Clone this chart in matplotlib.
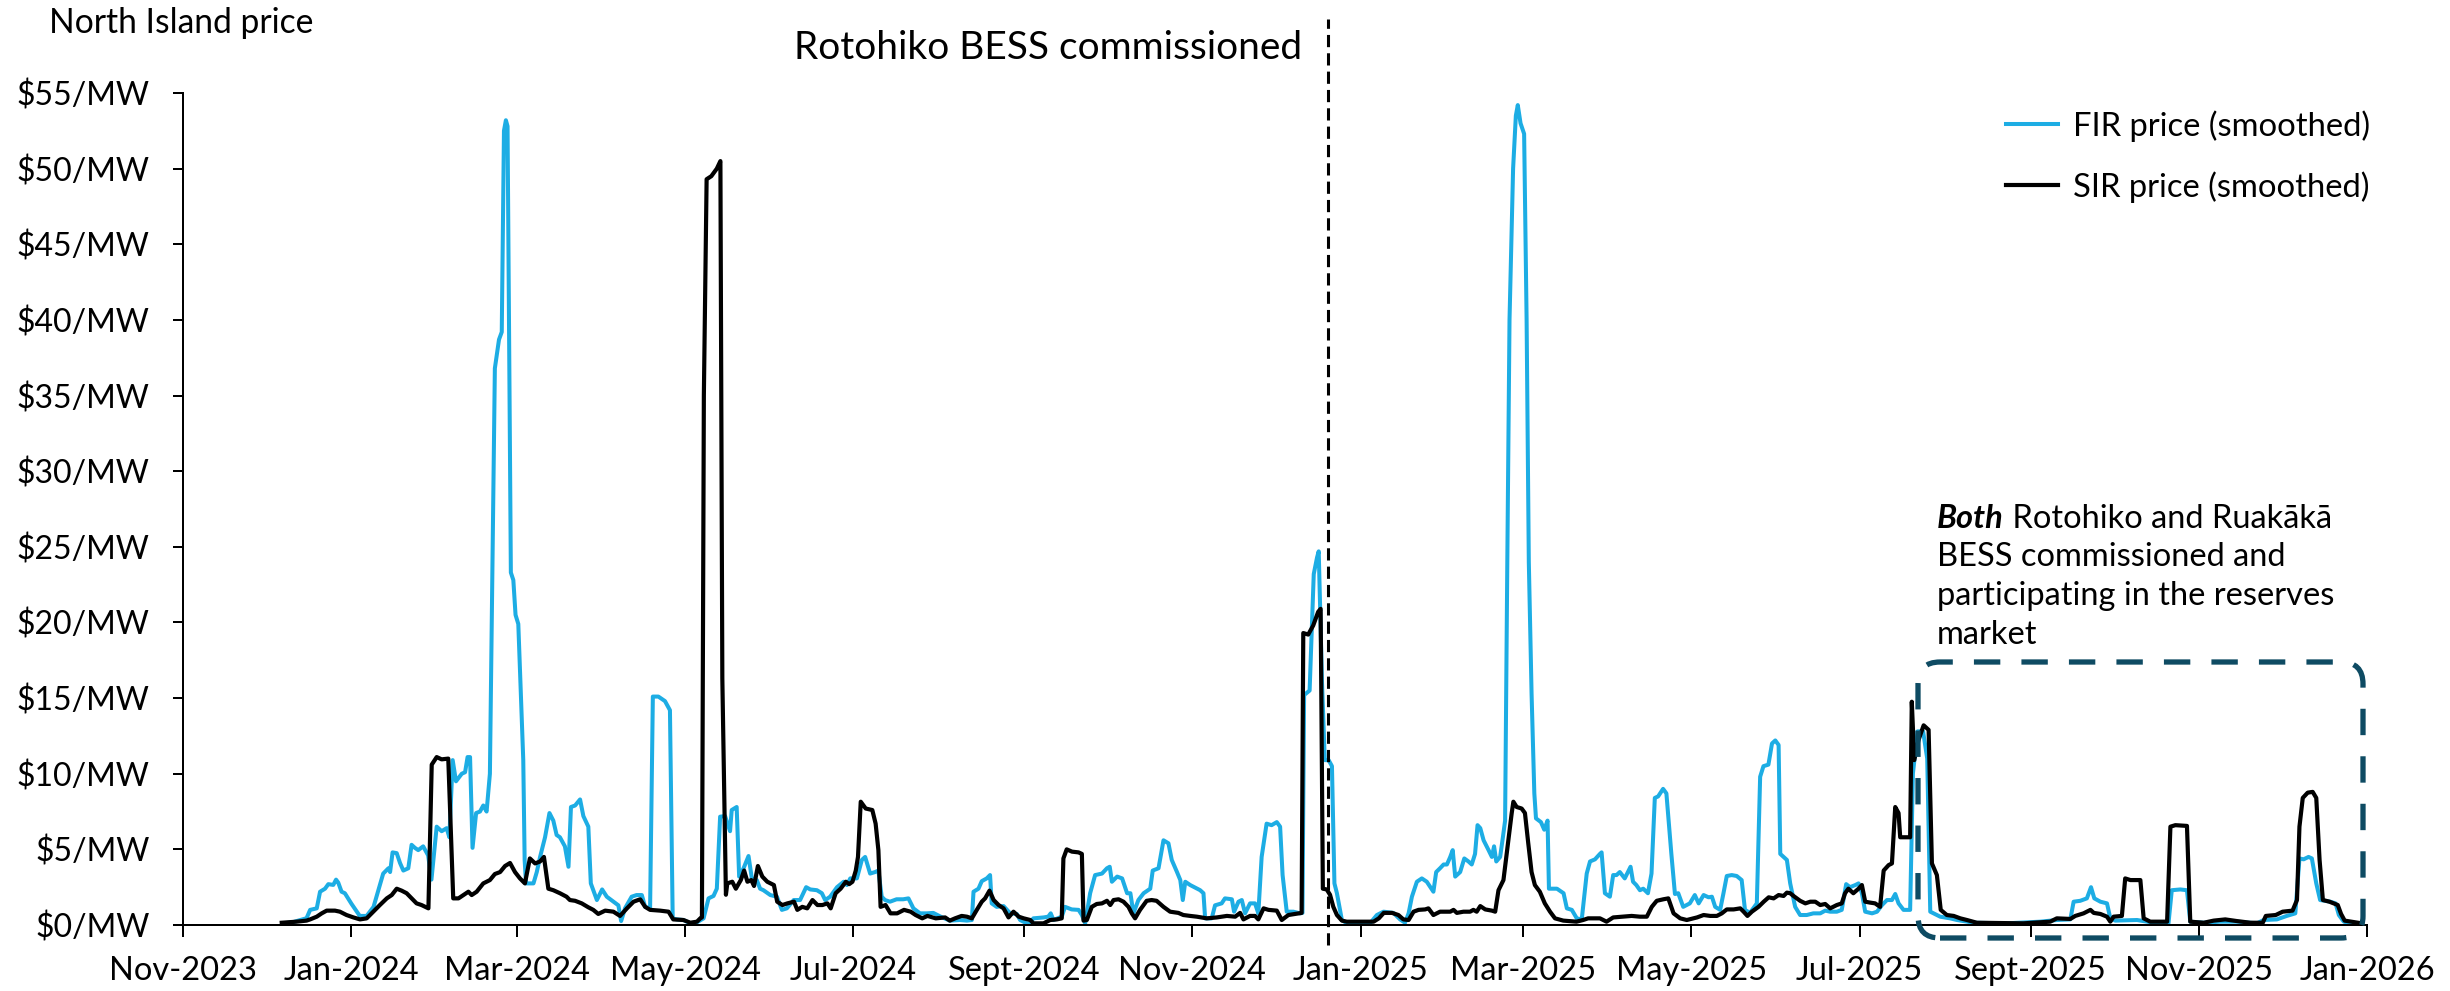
import matplotlib.pyplot as plt
import numpy as np
import pandas as pd
from matplotlib.patches import FancyBboxPatch
from matplotlib.transforms import IdentityTransform

plt.rcParams['font.family'] = ['Lato', 'DejaVu Sans']

W, H = 2450, 991
start = pd.Timestamp("2023-11-01")
end = pd.Timestamp("2026-01-01")
commissioned = pd.Timestamp("2024-12-20")

# smoothed North Island reserve prices, $/MW; days counted from 1 Nov 2023
fir_day = [36.3, 40, 44.7, 46, 48.4, 49.6, 51.4, 52.6, 54.4, 55.4, 56.2, 57.4, 58.6, 61, 64, 66.5, 69,
           72.5, 74.4, 75, 75.9, 77.4, 78.6, 79.8, 81.6, 82.8, 84, 85.2, 87, 88.8, 90, 91.9, 93.7, 95.5,
           96.5, 97.7, 98.9, 101, 102.2, 103.1, 104, 104.9, 106.2, 107.6, 108.8, 110, 111.2, 112, 113,
           114.5, 115.5, 116.3, 117, 117.6, 118.8, 119.7, 120.5, 121.5, 123.3, 123.8, 124.3, 127, 128.2,
           129.4, 131.2, 132.8, 134.2, 135.4, 136.6, 138.4, 139.7, 140.6, 142.1, 143.9, 145.1, 146.9,
           147.8, 150, 151.9, 153.6, 156, 157.8, 158.8, 160.2, 162.6, 164.4, 166.3, 167.5, 169.3, 170.3,
           172.3, 174.7, 176.5, 177.5, 179, 181.4, 183.9, 186.3, 188.7, 190.5, 192.3, 193.5, 194.7,
           196.5, 198.3, 198.9, 200.7, 201.6, 203.2, 205, 206.2, 208, 209.2, 210.4, 212.9, 215.3, 217.1,
           218.9, 221.4, 223.7, 225.9, 227.4, 229.8, 231.6, 232.8, 234.6, 237.1, 239.5, 240.7, 241.9,
           244.3, 246.1, 247.3, 249.1, 250.9, 252.1, 253.3, 254.5, 256.3, 258.7, 261.1, 263, 264.8,
           267.2, 269.6, 272, 274.7, 278, 281.7, 284.2, 286, 286.6, 288.4, 289.6, 291.4, 292.6, 293.2,
           295, 297.5, 299.9, 302.3, 303.5, 305.9, 307.1, 308.3, 312, 313.7, 314.6, 315.6, 318.6, 319.8,
           322.2, 324.7, 325.9, 327.1, 328.9, 330.7, 333.2, 335, 336, 336.8, 338.7, 340.5, 342.3, 343.5,
           344.6, 346.4, 348.3, 350.7, 351.6, 353.7, 355.5, 357.3, 358.5, 360.4, 361.6, 362.5, 363.4,
           365.2, 368.8, 370, 370.6, 373, 374.2, 376.6, 377.8, 380.3, 381.1, 382.7, 383.9, 385.1, 386.9,
           388.7, 389.9, 391.1, 392.9, 394.7, 396.6, 397.8, 398.7, 400.2, 402.6, 405, 405.9, 406.5,
           408.5, 410, 411.2, 411.8, 413, 414, 415.4, 416.6, 417.5, 418.4, 420.2, 422, 430.4, 432.9,
           435.3, 438.9, 441.3, 443.1, 444.4, 445.6, 447.4, 449.2, 451, 453.4, 454.4, 455.8, 457.1,
           458.3, 459.5, 460.4, 461.3, 463.1, 464.6, 466.1, 467.3, 468.5, 469.4, 470.4, 471.6, 473.4,
           474.6, 475.4, 476.2, 477.6, 478.6, 479.4, 480.2, 481, 482.3, 483.3, 484, 485, 486.3, 487.2,
           488, 489, 490, 490.6, 492.4, 493.6, 494.8, 495.3, 498.2, 500.6, 501.8, 503.6, 505.4, 507.2,
           509, 510.2, 512, 513.8, 514.4, 515.6, 517.4, 518.6, 519.8, 521, 522.8, 524.9, 525.8, 527,
           528.3, 529.5, 531.2, 532.5, 533.7, 534.9, 536.7, 537.9, 539.7, 541, 542.2, 544, 546.4, 548.2,
           549.6, 551.4, 553.2, 554.4, 555.6, 557.4, 558.6, 559.8, 561.6, 563.4, 565.2, 566.4, 568.2,
           570.7, 571.9, 573.1, 574.9, 576.2, 577.4, 578.6, 579.2, 581.6, 582.8, 584.6, 586.4, 588.8,
           591.2, 593.7, 595.5, 597.3, 599.7, 601.5, 603.1, 604.5, 606.4, 607.6, 608.8, 610, 612.5,
           614.3, 616.1, 617.9, 619.7, 620.9, 622.1, 623.9, 626.3, 627.3, 629, 631, 632.5, 633.6, 637.2,
           640.8, 643.3, 649.3, 661.4, 673.5, 679.5, 684.4, 685.6, 688, 690.4, 691.9, 693.1, 695.3,
           697.7, 698.9, 700.7, 708.6, 712.2, 715.8, 720, 721.2, 724.3, 726.7, 727.9, 732.8, 738.8,
           744.8, 752.1, 754.5, 759.3, 762.9, 766, 767.5, 769, 770.8, 772, 773.6, 775, 776.9, 778.7,
           780.6, 781.8, 783.6, 786, 789.2]
fir_price = [0.1, 0.2, 0.45, 1.0, 1.1, 2.2, 2.4, 2.7, 2.65, 3.0, 2.8, 2.2, 2.1, 1.4, 0.6, 0.6, 1.2,
             3.4, 3.75, 3.5, 4.8, 4.75, 4.1, 3.6, 3.75, 5.3, 5.1, 4.95, 5.2, 4.6, 3.0, 6.5, 6.2, 6.4,
             5.8, 10.9, 9.5, 10.0, 10.1, 11.1, 11.1, 5.1, 7.4, 7.5, 7.9, 7.5, 10.0, 22, 36.8,
             38.7, 39.2, 52.5, 53.2, 52.8, 23.3, 22.8, 20.5, 19.9, 10.9, 4.3, 2.75, 2.75, 3.5,
             4.5, 5.8, 7.4, 6.9, 5.95, 5.8, 5.2, 3.85, 7.8, 7.9, 8.3, 7.2, 6.5,
             2.75, 1.65, 2.35, 1.87, 1.54, 1.3, 0.26, 1.1, 1.87, 1.98, 1.98, 1.2, 1.1, 15.1,
             15.1, 14.8, 14.2, 0.44, 0.37, 0.33, 0.11, 0.18, 0.44, 1.76, 1.92, 2.4, 7.16,
             7.2, 6.2, 7.6, 7.8, 3.2, 3.75, 4.56, 3.08, 2.97, 2.4, 2.3, 1.98, 1.87, 1.0,
             1.1, 1.65, 1.65, 2.5, 2.35, 2.3, 2.1, 1.65, 1.87, 2.5, 2.86, 2.64, 3.08,
             3.08, 4.3, 4.5, 3.4, 3.5, 3.6, 1.87, 1.65, 1.54, 1.7, 1.7, 1.76, 1.1,
             0.77, 0.77, 0.8, 0.55, 0.29, 0.33, 0.29, 0.33, 2.2, 2.4, 2.9, 3.08, 3.3, 1.43,
             1.2, 1.25, 0.77, 0.73, 0.33, 0.11, 0.11, 0.44, 0.5, 0.55, 0.77, 0.33, 0.55, 1.2,
             1.03, 1.0, 0.66, 0.11, 2.1, 3.3, 3.4, 3.75, 3.85, 2.86, 3.2, 3.08, 2.1, 2.1,
             0.77, 1.65, 2.1, 2.4, 3.6, 3.75, 5.6, 5.4, 4.3, 3.5, 2.97, 1.65, 2.86,
             2.64, 2.3, 2.1, 0.44, 0.44, 1.3, 1.43, 1.76, 1.7, 0.88, 1.54, 1.65, 0.77, 1.43,
             1.43, 0.77, 4.5, 6.7, 6.6, 6.8, 6.5, 3.3, 0.88, 0.88, 0.77, 0.8, 15.2,
             15.5, 23.2, 24.3, 24.7, 16, 10.9, 10.9, 10.5, 2.75, 2.1, 0.33, 0.11, 0.11, 0.66,
             0.88, 0.8, 0.37, 0.15, 0.77, 1.87, 2.86, 3.08, 2.86, 2.2, 3.5, 3.75, 4.0,
             4.0, 4.5, 4.95, 3.2, 3.5, 4.4, 4.2, 4.0, 4.7, 6.6, 6.4, 5.6, 4.95,
             4.5, 5.2, 4.2, 4.5, 5.8, 6.9, 24, 40, 50, 53.5, 54.2, 53, 52.3, 40,
             24, 15.3, 8.7, 7.05, 6.8, 6.3, 6.9, 2.4, 2.4, 2.1, 1.1, 1.0, 0.44, 0.37,
             3.4, 4.2, 4.34, 4.7, 4.8, 2.1, 1.87, 3.3, 3.3, 3.5, 3.08, 3.85, 2.86, 2.64,
             2.3, 2.4, 2.1, 3.4, 8.4, 8.5, 9.0, 8.7, 4.7, 2.05, 2.1, 1.2, 1.43, 1.98,
             1.43, 1.98, 1.83, 1.87, 1.2, 1.0, 2.1, 3.24, 3.3, 3.24, 2.97, 1.0, 0.8,
             1.43, 9.8, 10.5, 10.6, 12.0, 12.2, 11.9, 4.7, 4.3, 2.75, 1.2, 0.66, 0.66,
             0.77, 0.77, 0.95, 0.88, 0.88, 1.0, 2.7, 2.5, 2.64, 2.75, 2.1, 0.88, 0.77,
             0.88, 1.32, 1.65, 1.65, 2.05, 1.43, 1.0, 1.0, 10.0, 12.8, 12.8, 11.0, 0.88, 0.55,
             0.44, 0.33, 0.15, 0.11, 0.22, 0.33, 0.37, 1.54, 1.6, 1.76, 2.5, 1.76, 1.54,
             1.43, 0.44, 0.29, 0.33, 0.22, 0.11, 0.11, 2.3, 2.35, 2.3, 0.22, 0.15, 0.22,
             0.22, 0.11, 0.33, 0.37, 0.6, 0.77, 4.4, 4.34, 4.5, 4.4, 2.75, 1.65, 1.6, 1.54,
             1.43, 0.66, 0.22, 0.11, 0.1]

sir_day = [35.7, 41.1, 44.7, 46, 48.4, 50.2, 52, 55, 56.8, 59.2, 61.7, 64.1, 66.5, 68.9, 71.3, 73.8,
           75.6, 77.4, 79.2, 81, 82.8, 84.6, 86.4, 88.9, 90.1, 91.9, 93.7, 96.1, 97.9, 99.8, 101.6,
           103.4, 104.6, 106.4, 108.8, 111.2, 113, 114.9, 116.7, 118.5, 120.3, 122.1, 123.9, 125.7,
           127.6, 129.4, 130.8, 132.4, 134.2, 136.6, 139, 140.2, 142.1, 144.5, 146.9, 148.7, 150.5,
           153, 156, 158.4, 160.9, 163.3, 165.7, 167.5, 169.3, 172.9, 176, 177.7, 181.4, 183.9, 186.3,
           187.5, 188.1, 188.8, 189.8, 191.5, 193.5, 194.8, 195.5, 196.8, 197.3, 199.1, 200.4, 202.2,
           203.4, 204.6, 206, 207, 208.4, 210, 211.8, 214.2, 215.4, 217.3, 219.1, 221.5, 222.7, 224.5,
           226.3, 228.2, 230, 231.8, 233.6, 234.8, 236.6, 238.4, 240.3, 241.5, 242.7, 243.9, 244.7,
           245.7, 247.5, 249.9, 251.1, 252.1, 252.9, 254.7, 256.5, 258.9, 261.4, 263.8, 265.6, 268,
           269.9, 272.9, 276.3, 278, 279.9, 282.3, 284.2, 286, 287.8, 289.6, 290.8, 292.4, 293.9,
           295.7, 297.5, 299.3, 301.1, 303, 304.8, 307.2, 308.3, 312, 314.4, 316.8, 318.6, 319.2,
           320.4, 322.3, 324.7, 325.9, 326.5, 327.7, 329.5, 331.3, 333.2, 335, 336.2, 337.4, 339.2,
           341, 342.8, 344, 345.2, 347, 349.4, 351.2, 353, 355.5, 357.9, 360.9, 362.7, 365.2, 367.6,
           371.2, 374.8, 378.5, 381.5, 383.3, 384.5, 386.9, 388.7, 389.9, 391.8, 393.6, 396.6, 398.4,
           400.8, 403.2, 405.6, 406.2, 408, 409.8, 411.6, 412.5, 413.3, 414.7, 415.9, 417.1, 418.4,
           420.2, 422, 431.7, 433.6, 435.4, 438.4, 440.7, 442.5, 444.4, 446.2, 448, 450.4, 451.6,
           453.4, 455.8, 459.5, 460.7, 461.9, 464.3, 466.7, 467.9, 469.1, 470.4, 472.2, 474.6, 475.8,
           477, 478.8, 480.6, 481.8, 482.4, 483.6, 485.4, 486.6, 487.8, 489, 490.2, 492, 493.8, 495.7,
           497.5, 500.5, 505.3, 507.7, 509.5, 513.8, 516.2, 518.6, 522.2, 525.3, 528.3, 530.8, 532.6,
           534.4, 536.8, 538.6, 540.5, 542.9, 545.3, 547.7, 549, 551.4, 553.8, 556.2, 558, 559.8,
           562.3, 564.7, 565.9, 567.3, 568.9, 571.3, 573.2, 575, 576.8, 578.6, 580.4, 581.6, 582.8,
           584, 586.4, 588.3, 590.1, 591.9, 593.7, 595.5, 597.3, 599.7, 601.5, 602.7, 603.9, 605.7,
           607.6, 608.8, 610, 611.8, 613.6, 615.4, 616.7, 618.5, 619.7, 620.9, 622.1, 622.7, 624.5,
           626.3, 626.9, 627.8, 629.3, 631.2, 633, 634.2, 636, 637.4, 639.6, 642.1, 644.5, 646.9,
           650.5, 667.4, 677.1, 679.5, 684.4, 686.2, 689.2, 691.7, 692.9, 695.3, 697.7, 698.9, 700.1,
           703.1, 704.3, 706.2, 709.8, 711, 713.4, 719.5, 720.7, 722.5, 726.7, 727.9, 732.8, 736.4,
           740.6, 744.8, 749.7, 754.2, 755.3, 758.9, 761.4, 765, 766.6, 767.5, 768.7, 770.5, 772.3,
           773.6, 774.8, 776, 778.4, 781.4, 782.6, 783.9, 788.7]
sir_price = [0.15, 0.22, 0.29, 0.37, 0.55, 0.77, 0.95, 0.95, 0.88, 0.66, 0.5, 0.37, 0.44, 0.88, 1.32, 1.76,
             1.98, 2.4, 2.27, 2.1, 1.76, 1.43, 1.32, 1.1, 10.6, 11.1, 10.95, 11.0, 1.76, 1.76, 1.98,
             2.2, 1.98, 2.2, 2.75, 2.97, 3.37, 3.5, 3.9, 4.1, 3.5, 3.08, 2.75, 4.4,
             4.07, 4.2, 4.5, 2.4, 2.3, 2.1, 1.87, 1.65, 1.6, 1.43, 1.17, 1.0, 0.73,
             0.95, 0.88, 0.6, 1.1, 1.54, 1.7, 1.2, 1.0, 0.95, 0.88, 0.37, 0.33, 0.15, 0.22,
             0.44, 0.5, 35, 49.3, 49.5, 50, 50.5, 16.3, 2.0, 2.75, 2.86, 2.4, 2.97,
             3.6, 2.86, 2.97, 2.58, 3.9, 3.2, 2.86, 2.64, 1.54, 1.32, 1.43, 1.54, 1.0, 1.2,
             1.1, 1.65, 1.32, 1.32, 1.43, 1.1, 2.1, 2.4, 2.86, 2.7, 2.86, 3.6, 4.5,
             8.15, 7.7, 7.6, 6.7, 4.95, 1.2, 1.32, 0.77, 0.77, 1.0, 0.88, 0.66, 0.44,
             0.6, 0.44, 0.5, 0.29, 0.44, 0.6, 0.55, 0.44, 1.0, 1.54, 1.76, 2.27, 1.65,
             1.32, 1.1, 0.5, 0.88, 0.55, 0.44, 0.33, 0.11, 0.11, 0.33, 0.37, 0.44, 4.4,
             5.0, 4.85, 4.8, 4.7, 0.29, 0.33, 1.2, 1.39, 1.43, 1.6, 1.32, 1.65, 1.7,
             1.54, 1.2, 0.77, 0.44, 1.0, 1.6, 1.65, 1.6, 1.2, 0.88, 0.8, 0.66, 0.6, 0.55,
             0.44, 0.5, 0.6, 0.55, 0.8, 0.37, 0.6, 0.6, 0.37, 1.1, 1.0, 0.95, 0.33,
             0.66, 0.73, 0.8, 19.3, 19.2, 19.8, 20.7, 20.9, 2.4, 2.35, 2.0, 1.2, 0.66,
             0.29, 0.22, 0.22, 0.44, 0.8, 0.8, 0.66, 0.37, 0.33, 0.88, 1.0, 1.03, 1.1,
             0.66, 0.88, 0.88, 1.0, 0.8, 0.88, 0.88, 1.0, 0.88, 1.25, 1.03, 0.95, 0.88,
             2.3, 2.97, 5.6, 7.4, 8.15, 7.8, 7.7, 7.4, 5.4, 3.5, 2.64, 2.2, 1.43, 0.88,
             0.44, 0.29, 0.22, 0.33, 0.44, 0.44, 0.22, 0.5, 0.55, 0.6, 0.55, 0.55, 1.2,
             1.6, 1.7, 1.76, 0.77, 0.44, 0.33, 0.44, 0.5, 0.66, 0.6, 0.6, 0.77, 1.03,
             1.03, 1.1, 0.88, 0.6, 0.88, 1.2, 1.54, 1.83, 1.76, 1.98, 1.92, 2.14, 2.1,
             1.92, 1.6, 1.43, 1.54, 1.54, 1.32, 1.39, 1.1, 1.32, 1.43, 2.1, 2.4, 2.1,
             2.4, 2.64, 1.54, 1.48, 1.43, 1.2, 3.6, 3.96, 4.07, 7.8, 7.4, 5.8, 5.8,
             5.8, 14.76, 10.9, 12.2, 13.2, 12.9, 4.07, 3.3, 1.0, 0.66, 0.6, 0.44, 0.33,
             0.15, 0.11, 0.22, 0.44, 0.4, 0.6, 0.77, 1.0, 0.8, 0.73, 0.55, 0.22, 0.55,
             0.6, 3.08, 2.97, 2.97, 0.44, 0.22, 0.22, 6.5, 6.6, 6.55, 0.22, 0.15, 0.29,
             0.37, 0.26, 0.15, 0.15, 0.6, 0.66, 0.88, 0.95, 1.65, 6.5, 8.4, 8.75, 8.8,
             8.4, 4.3, 1.65, 1.54, 1.32, 0.73, 0.29, 0.15]

tick_dates = pd.date_range(start, end, freq="2MS")
tick_labels = ["Nov-2023", "Jan-2024", "Mar-2024", "May-2024", "Jul-2024", "Sept-2024", "Nov-2024",
               "Jan-2025", "Mar-2025", "May-2025", "Jul-2025", "Sept-2025", "Nov-2025", "Jan-2026"]
price_ticks = list(range(0, 56, 5))

fir_dates = start + pd.to_timedelta(np.array(fir_day), unit="D")
sir_dates = start + pd.to_timedelta(np.array(sir_day), unit="D")

fig = plt.figure(figsize=(W / 100, H / 100), dpi=100)
ax = fig.add_axes([183.3 / W, 1 - 925 / H, (2367 - 183.3) / W, (925 - 93) / H])

ax.plot(fir_dates, fir_price, color="#1DADE4", lw=2.9, solid_joinstyle="round",
        label="FIR price (smoothed)")
ax.plot(sir_dates, sir_price, color="black", lw=3.0, solid_joinstyle="round",
        label="SIR price (smoothed)")

ax.set_xlim(start, end)
ax.set_ylim(0, 55)
ax.set_xticks(tick_dates)
ax.set_xticklabels(tick_labels)
ax.set_yticks(price_ticks)
ax.set_yticklabels([rf"\${v}/MW" for v in price_ticks])
for side in ("top", "right"):
    ax.spines[side].set_visible(False)
for side in ("left", "bottom"):
    ax.spines[side].set_linewidth(1.44)
ax.tick_params(axis="y", length=7.2, width=1.44, pad=17, labelsize=23)
ax.tick_params(axis="x", length=8.6, width=1.44, pad=14, labelsize=23.5)

ax.legend(loc="upper right", bbox_to_anchor=(2370 / W, 1 - 110 / H), bbox_transform=fig.transFigure,
          frameon=False, fontsize=23.6, borderpad=0, borderaxespad=0, handlelength=1.6,
          handletextpad=0.45, labelspacing=0.9)

# commissioning marker runs past the top of the plot
ax.plot([commissioned, commissioned], [-1.3, 59.9], color="black", lw=2.2,
        ls=(0, (4, 2)), clip_on=False)
fig.text(1302 / W, 1 - 59 / H, "Rotohiko BESS commissioned", ha="right", va="baseline",
         fontsize=28)

fig.text(49 / W, 1 - 33 / H, "North Island price", ha="left", va="baseline", fontsize=24.2)

# note over the period with both batteries in the market
note_x = 1937 / W
note_size = 23.5
both = fig.text(note_x, 1 - 528 / H, "Both", fontsize=note_size, fontweight="bold",
                fontstyle="italic", va="baseline")
ax.annotate(" Rotohiko and Ruakākā", xy=(1, 1 - 528 / H), xycoords=(both, "figure fraction"),
            fontsize=note_size, va="baseline", ha="left", annotation_clip=False)
for i, line in enumerate(["BESS commissioned and", "participating in the reserves", "market"]):
    fig.text(note_x, 1 - (566.5 + 38.5 * i) / H, line, fontsize=note_size, va="baseline")

box = FancyBboxPatch((1918, H - 938), 445, 276, boxstyle="round,pad=0,rounding_size=22",
                     transform=IdentityTransform(), fill=False, ec="#0E4B63", lw=3.8,
                     ls=(0, (5, 4)))
fig.add_artist(box)

fig.savefig("out.png", dpi=100)
